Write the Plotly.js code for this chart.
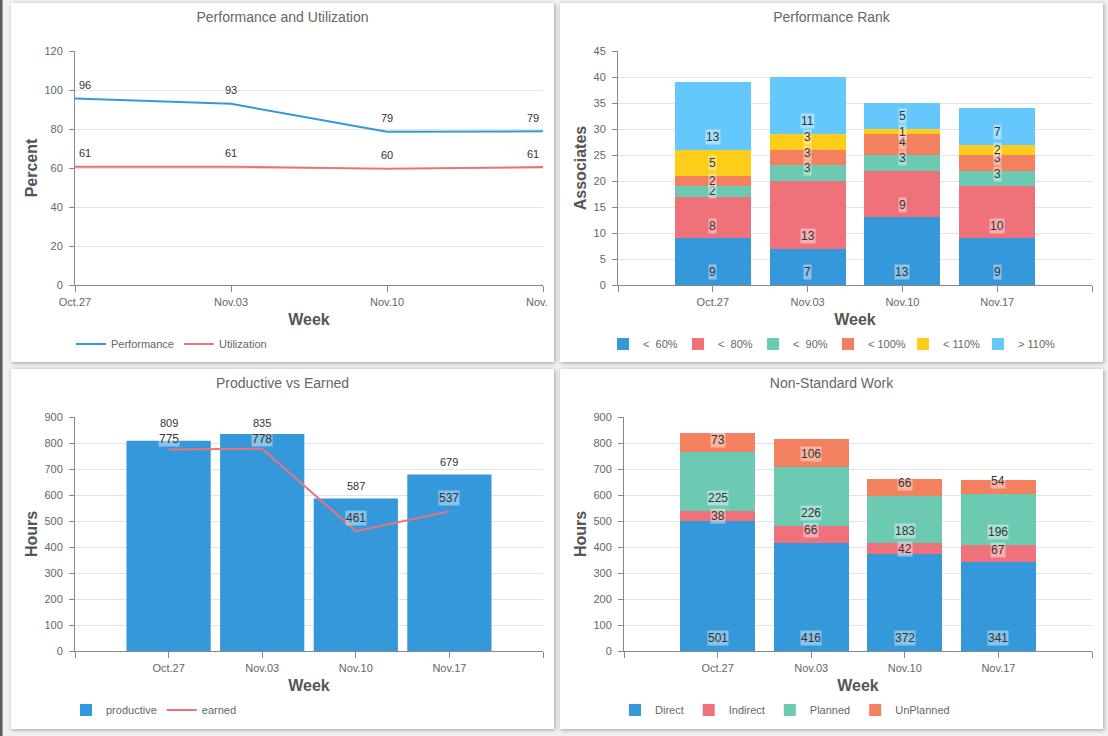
<!DOCTYPE html>
<html>
<head>
<meta charset="utf-8">
<script src="https://cdn.plot.ly/plotly-3.0.1.min.js"></script>
<style>
html,body{margin:0;padding:0;}
body{width:1108px;height:736px;background:#f1f1f1;position:relative;overflow:hidden;font-family:'Liberation Sans',Arial,sans-serif;}
.strip{position:absolute;left:0;top:0;width:2px;height:736px;background:#5c5c5c;border-right:1px solid #9a9a9a;}
.card{position:absolute;background:#fff;box-shadow:1px 1px 4px rgba(0,0,0,0.35);overflow:hidden;}
.plot{position:absolute;left:0;top:0;overflow:hidden;}
</style>
</head>
<body>
<div class="strip"></div>
<div class="card" style="left:11px;top:3px;width:543px;height:359px;"><div class="plot" id="p1" style="width:537px;height:359px;"></div></div>
<div class="card" style="left:560px;top:3px;width:543px;height:359px;"><div class="plot" id="p2" style="width:543px;height:359px;"></div></div>
<div class="card" style="left:11px;top:369px;width:543px;height:360px;"><div class="plot" id="p3" style="width:543px;height:360px;"></div></div>
<div class="card" style="left:560px;top:369px;width:543px;height:360px;"><div class="plot" id="p4" style="width:543px;height:360px;"></div></div>
<script>
// ---------- data ----------
const weeks = ['Oct.27', 'Nov.03', 'Nov.10', 'Nov.17'];

const performance = [95.6, 92.9, 78.6, 78.8];
const utilization = [60.6, 60.7, 59.6, 60.5];

const rankNames = ['<\u00a0\u00a060%', '<\u00a0\u00a080%', '<\u00a0\u00a090%', '< 100%', '< 110%', '> 110%'];
const rankUnder60 = [9, 7, 13, 9];
const rankUnder80 = [8, 13, 9, 10];
const rankUnder90 = [2, 3, 3, 3];
const rankUnder100 = [2, 3, 4, 3];
const rankUnder110 = [5, 3, 1, 2];
const rankOver110 = [13, 11, 5, 7];

const productive = [809, 835, 587, 679];
const earned = [775, 778, 461, 537];

const workNames = ['Direct', 'Indirect', 'Planned', 'UnPlanned'];
const direct = [501, 416, 372, 341];
const indirect = [38, 66, 42, 67];
const planned = [225, 226, 183, 196];
const unplanned = [73, 106, 66, 54];

// ---------- style ----------
const FONT = "'Liberation Sans', Arial, Helvetica, sans-serif";
const BLUE = '#3598db', RED = '#ef717a', TEAL = '#6ccab3', ORANGE = '#f3815f', YELLOW = '#fccd1b', SKY = '#64c8fd';
const rankColors = [BLUE, RED, TEAL, ORANGE, YELLOW, SKY];
const workColors = [BLUE, RED, TEAL, ORANGE];
const PLOT_H = 234;

function baseLayout(o) {
  const legend = {orientation: 'h', xref: 'container', x: o.legX, xanchor: 'left',
             yref: 'container', y: 1 - 341 / o.h, yanchor: 'middle',
             font: {family: FONT, size: 11, color: '#666'}, bgcolor: 'rgba(0,0,0,0)',
             traceorder: 'normal', itemclick: false};
  if (o.entrywidth) { legend.entrywidth = o.entrywidth; legend.entrywidthmode = 'pixels'; }
  return {
    width: o.w, height: o.h,
    margin: {l: o.l, r: o.r, t: o.t, b: o.b, pad: 0},
    paper_bgcolor: '#ffffff', plot_bgcolor: '#ffffff',
    font: {family: FONT, size: 11, color: '#666'},
    title: {text: o.title, font: {family: FONT, size: 14, color: '#666'},
            x: o.titleX, xref: 'container', xanchor: 'center',
            y: 1 - 14.5 / o.h, yref: 'container', yanchor: 'middle'},
    showlegend: true,
    legend: legend,
    xaxis: {type: 'category', range: o.xrange, tickmode: 'array', tickvals: o.tickvals, ticktext: o.ticktext,
            ticks: 'outside', ticklen: 6, tickcolor: '#888', showline: true, linecolor: '#888', linewidth: 1,
            showgrid: false, zeroline: false, tickfont: {family: FONT, size: 11, color: '#666'},
            ticklabeloverflow: 'allow', ticklabelstandoff: 1,
            title: {text: 'Week', font: {family: FONT, size: 16, color: '#555', weight: 'bold'}, standoff: 6}},
    yaxis: {range: o.yrange, tick0: 0, dtick: o.dtick, ticks: 'outside', ticklen: 5, tickcolor: '#888',
            showline: true, linecolor: '#888', linewidth: 1, showgrid: true, gridcolor: '#e4e4e4', gridwidth: 1,
            zeroline: false, tickfont: {family: FONT, size: 11, color: '#666'}, ticklabelstandoff: 4,
            title: {text: o.ytitle, font: {family: FONT, size: 16, color: '#555', weight: 'bold'}, standoff: 2}},
    barmode: 'stack', bargap: o.bargap,
    annotations: o.annotations || []
  };
}
const config = {staticPlot: true, displayModeBar: false};

// stacked-bar labels: boxed, placed ~12.7px above the segment base (or centred for thin segments)
function stackLabels(seriesList, ymax) {
  const pxPer = PLOT_H / ymax;
  const ann = [];
  const base = weeks.map(() => 0);
  seriesList.forEach(vals => {
    vals.forEach((v, i) => {
      const hPx = v * pxPer;
      const off = hPx >= 13 ? 12.7 : hPx / 2;
      ann.push({x: weeks[i], y: base[i], yshift: off, yanchor: 'middle', xanchor: 'center',
                text: String(v), showarrow: false, font: {family: FONT, size: 12, color: '#333'},
                bgcolor: 'rgba(255,255,255,0.42)', borderpad: 0});
      base[i] += v;
    });
  });
  return ann;
}

// ---------- 1: Performance and Utilization ----------
(function () {
  const ann = [];
  [performance, utilization].forEach(vals => {
    vals.forEach((v, i) => {
      const last = vals.length - 1;
      ann.push({x: weeks[i], y: v, text: String(Math.round(v)), showarrow: false,
                xanchor: i === 0 ? 'left' : (i === last ? 'right' : 'center'),
                xshift: i === 0 ? 2 : (i === last ? -2 : 0),
                yanchor: 'middle', yshift: 13.5, font: {family: FONT, size: 11, color: '#333'}});
    });
  });
  const traces = [
    {type: 'scatter', mode: 'lines', x: weeks, y: performance, name: 'Performance', line: {color: BLUE, width: 2}, cliponaxis: false},
    {type: 'scatter', mode: 'lines', x: weeks, y: utilization, name: 'Utilization', line: {color: RED, width: 2}, cliponaxis: false}
  ];
  Plotly.newPlot('p1', traces, baseLayout({
    w: 537, h: 359, l: 64, r: 5, t: 48, b: 77, title: 'Performance and Utilization', titleX: 271.5 / 537,
    legX: 60 / 537, xrange: [0, 3], tickvals: [0, 1, 2, 3], ticktext: weeks,
    yrange: [0, 120], dtick: 20, ytitle: 'Percent', bargap: 0.2, annotations: ann
  }), config);
})();

// ---------- 2: Performance Rank ----------
(function () {
  const series = [rankUnder60, rankUnder80, rankUnder90, rankUnder100, rankUnder110, rankOver110];
  const traces = series.map((vals, k) => {
    const t = {type: 'bar', x: weeks, y: vals, name: rankNames[k], marker: {color: rankColors[k], line: {width: 0}}};
    if (k === series.length - 1) t.legendwidth = 42;
    return t;
  });
  Plotly.newPlot('p2', traces, baseLayout({
    w: 543, h: 359, l: 58, r: 11, t: 48, b: 77, title: 'Performance Rank', titleX: 0.5,
    legX: 43 / 543, entrywidth: 30, xrange: [-1, 4], tickvals: [-1, 0, 1, 2, 3, 4], ticktext: [''].concat(weeks, ['']),
    yrange: [0, 45], dtick: 5, ytitle: 'Associates', bargap: 0.2, annotations: stackLabels(series, 45)
  }), config);
})();

// ---------- 3: Productive vs Earned ----------
(function () {
  const ymax = 900, pxPer = PLOT_H / ymax, cap = PLOT_H - 6.4;
  const ann = [];
  productive.forEach((v, i) => {
    let barLab = v * pxPer + 12.7;
    let earnLab = earned[i] * pxPer + 13;
    if (barLab > cap) barLab = cap;
    if (barLab - earnLab < 16) { barLab = cap; earnLab = Math.min(earnLab, barLab - 16); }
    ann.push({x: weeks[i], y: v, yshift: barLab - v * pxPer, yanchor: 'middle', text: String(v), showarrow: false,
              font: {family: FONT, size: 11, color: '#333'}});
    ann.push({x: weeks[i], y: earned[i], yshift: earnLab - earned[i] * pxPer, yanchor: 'middle', text: String(earned[i]),
              showarrow: false, font: {family: FONT, size: 12, color: '#333'}, bgcolor: 'rgba(255,255,255,0.42)', borderpad: 0});
  });
  const traces = [
    {type: 'bar', x: weeks, y: productive, name: 'productive', marker: {color: BLUE, line: {width: 0}}},
    {type: 'scatter', mode: 'lines', x: weeks, y: earned, name: 'earned', line: {color: RED, width: 2}}
  ];
  Plotly.newPlot('p3', traces, baseLayout({
    w: 543, h: 360, l: 64, r: 11, t: 48, b: 78, title: 'Productive vs Earned', titleX: 0.5,
    legX: 55 / 543, xrange: [-1, 4], tickvals: [-1, 0, 1, 2, 3, 4], ticktext: [''].concat(weeks, ['']),
    yrange: [0, 900], dtick: 100, ytitle: 'Hours', bargap: 0.1, annotations: ann
  }), config);
})();

// ---------- 4: Non-Standard Work ----------
(function () {
  const series = [direct, indirect, planned, unplanned];
  const traces = series.map((vals, k) => ({type: 'bar', x: weeks, y: vals, name: workNames[k],
                                            marker: {color: workColors[k], line: {width: 0}}}));
  Plotly.newPlot('p4', traces, baseLayout({
    w: 543, h: 360, l: 64, r: 11, t: 48, b: 78, title: 'Non-Standard Work', titleX: 0.5,
    legX: 55 / 543, xrange: [-1, 4], tickvals: [-1, 0, 1, 2, 3, 4], ticktext: [''].concat(weeks, ['']),
    yrange: [0, 900], dtick: 100, ytitle: 'Hours', bargap: 0.2, annotations: stackLabels(series, 900)
  }), config);
})();
</script>
</body>
</html>
